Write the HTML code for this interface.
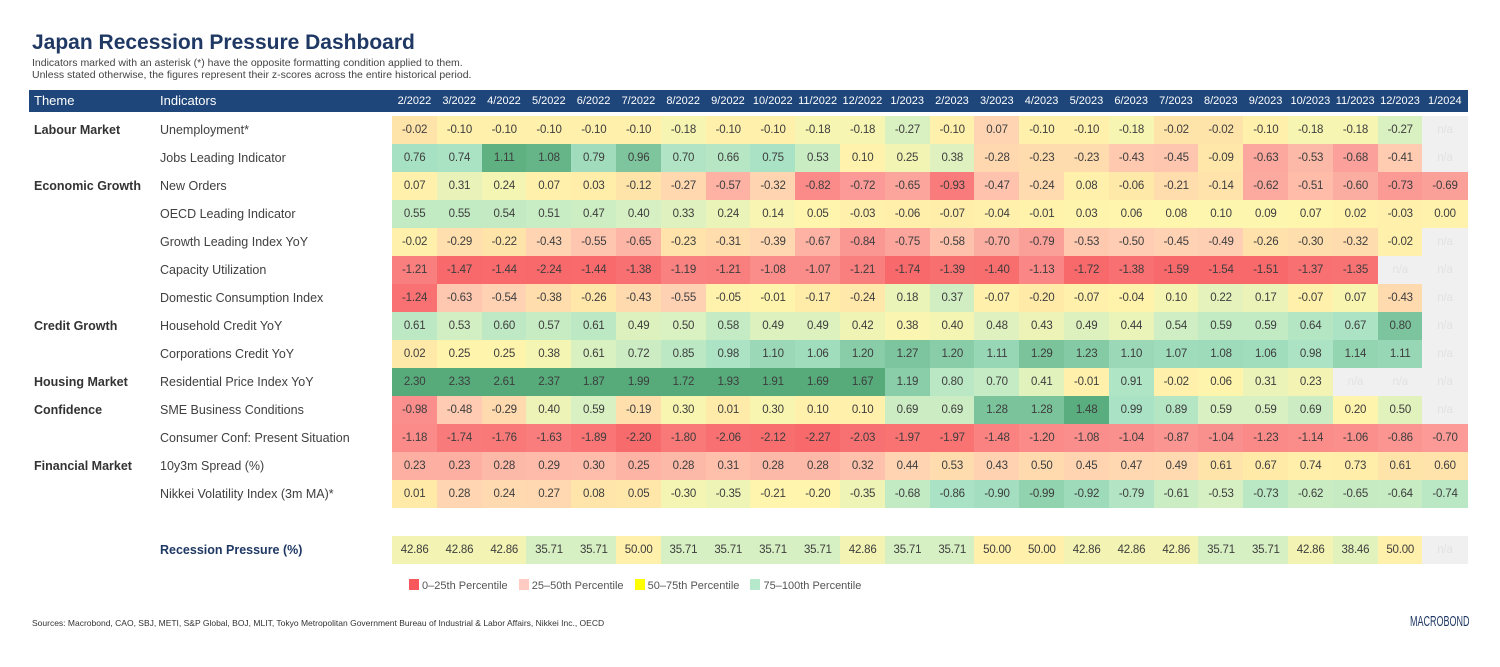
<!DOCTYPE html>
<html><head><meta charset="utf-8">
<style>
body{margin:0;width:1500px;height:667px;background:#fff;font-family:"Liberation Sans",sans-serif;position:relative;overflow:hidden}
.a{position:absolute}
.cell{position:absolute;height:28px;line-height:28px;text-align:center;font-size:11.5px;color:#3d3d3d;letter-spacing:-0.2px}
.hdr{position:absolute;top:90px;height:22px;line-height:22px;color:#fff;font-size:11px;text-align:center}
.lbl{position:absolute;font-size:12.5px;color:#404040;height:28px;line-height:28px}
</style></head><body>
<div class="a" style="left:32px;top:31px;font-size:21px;font-weight:bold;color:#1f3864">Japan Recession Pressure Dashboard</div>
<div class="a" style="left:32px;top:58px;font-size:10.5px;color:#444;line-height:11.5px">Indicators marked with an asterisk (*) have the opposite formatting condition applied to them.<br>Unless stated otherwise, the figures represent their z-scores across the entire historical period.</div>
<div class="a" style="left:29px;top:90px;width:1439px;height:22px;background:#1f467a"></div>
<div class="hdr" style="left:34px;text-align:left;font-size:13px">Theme</div>
<div class="hdr" style="left:160px;text-align:left;font-size:13px">Indicators</div>
<div id="grid"></div>
<div class="a" style="left:409px;top:579px;font-size:11px;color:#555;white-space:nowrap">
<span><span style="display:inline-block;width:10px;height:11px;background:#f8575b;vertical-align:-1px"></span> 0–25th Percentile</span>
<span style="margin-left:8px"><span style="display:inline-block;width:10px;height:11px;background:#ffcbc3;vertical-align:-1px"></span> 25–50th Percentile</span>
<span style="margin-left:8px"><span style="display:inline-block;width:10px;height:11px;background:#ffff00;vertical-align:-1px"></span> 50–75th Percentile</span>
<span style="margin-left:8px"><span style="display:inline-block;width:10px;height:11px;background:#b6e8cc;vertical-align:-1px"></span> 75–100th Percentile</span>
</div>
<div class="a" style="left:32px;top:618px;font-size:8.5px;color:#333">Sources: Macrobond, CAO, SBJ, METI, S&amp;P Global, BOJ, MLIT, Tokyo Metropolitan Government Bureau of Industrial &amp; Labor Affairs, Nikkei Inc., OECD</div>
<div class="a" style="left:1410px;top:613px;font-size:15px;color:#1f3864;transform:scaleX(0.6);transform-origin:0 0;white-space:nowrap">MACROBOND</div>
<script>
const months=["2/2022","3/2022","4/2022","5/2022","6/2022","7/2022","8/2022","9/2022","10/2022","11/2022","12/2022","1/2023","2/2023","3/2023","4/2023","5/2023","6/2023","7/2023","8/2023","9/2023","10/2023","11/2023","12/2023","1/2024"];
const themes=["Labour Market","","Economic Growth","","","","","Credit Growth","","Housing Market","Confidence","","Financial Market","",""];
const indicators=["Unemployment*","Jobs Leading Indicator","New Orders","OECD Leading Indicator","Growth Leading Index YoY","Capacity Utilization","Domestic Consumption Index","Household Credit YoY","Corporations Credit YoY","Residential Price Index YoY","SME Business Conditions","Consumer Conf: Present Situation","10y3m Spread (%)","Nikkei Volatility Index (3m MA)*","Recession Pressure (%)"];
const N=null;
const rowUnemp=[-0.02,-0.10,-0.10,-0.10,-0.10,-0.10,-0.18,-0.10,-0.10,-0.18,-0.18,-0.27,-0.10,0.07,-0.10,-0.10,-0.18,-0.02,-0.02,-0.10,-0.18,-0.18,-0.27,N];
const rowJobs=[0.76,0.74,1.11,1.08,0.79,0.96,0.70,0.66,0.75,0.53,0.10,0.25,0.38,-0.28,-0.23,-0.23,-0.43,-0.45,-0.09,-0.63,-0.53,-0.68,-0.41,N];
const rowOrders=[0.07,0.31,0.24,0.07,0.03,-0.12,-0.27,-0.57,-0.32,-0.82,-0.72,-0.65,-0.93,-0.47,-0.24,0.08,-0.06,-0.21,-0.14,-0.62,-0.51,-0.60,-0.73,-0.69];
const rowOECD=[0.55,0.55,0.54,0.51,0.47,0.40,0.33,0.24,0.14,0.05,-0.03,-0.06,-0.07,-0.04,-0.01,0.03,0.06,0.08,0.10,0.09,0.07,0.02,-0.03,0.00];
const rowGrowth=[-0.02,-0.29,-0.22,-0.43,-0.55,-0.65,-0.23,-0.31,-0.39,-0.67,-0.84,-0.75,-0.58,-0.70,-0.79,-0.53,-0.50,-0.45,-0.49,-0.26,-0.30,-0.32,-0.02,N];
const rowCapacity=[-1.21,-1.47,-1.44,-2.24,-1.44,-1.38,-1.19,-1.21,-1.08,-1.07,-1.21,-1.74,-1.39,-1.40,-1.13,-1.72,-1.38,-1.59,-1.54,-1.51,-1.37,-1.35,N,N];
const rowDomestic=[-1.24,-0.63,-0.54,-0.38,-0.26,-0.43,-0.55,-0.05,-0.01,-0.17,-0.24,0.18,0.37,-0.07,-0.20,-0.07,-0.04,0.10,0.22,0.17,-0.07,0.07,-0.43,N];
const rowHousehold=[0.61,0.53,0.60,0.57,0.61,0.49,0.50,0.58,0.49,0.49,0.42,0.38,0.40,0.48,0.43,0.49,0.44,0.54,0.59,0.59,0.64,0.67,0.80,N];
const rowCorp=[0.02,0.25,0.25,0.38,0.61,0.72,0.85,0.98,1.10,1.06,1.20,1.27,1.20,1.11,1.29,1.23,1.10,1.07,1.08,1.06,0.98,1.14,1.11,N];
const rowResid=[2.30,2.33,2.61,2.37,1.87,1.99,1.72,1.93,1.91,1.69,1.67,1.19,0.80,0.70,0.41,-0.01,0.91,-0.02,0.06,0.31,0.23,N,N,N];
const rowSME=[-0.98,-0.48,-0.29,0.40,0.59,-0.19,0.30,0.01,0.30,0.10,0.10,0.69,0.69,1.28,1.28,1.48,0.99,0.89,0.59,0.59,0.69,0.20,0.50,N];
const rowConsumer=[-1.18,-1.74,-1.76,-1.63,-1.89,-2.20,-1.80,-2.06,-2.12,-2.27,-2.03,-1.97,-1.97,-1.48,-1.20,-1.08,-1.04,-0.87,-1.04,-1.23,-1.14,-1.06,-0.86,-0.70];
const rowSpread=[0.23,0.23,0.28,0.29,0.30,0.25,0.28,0.31,0.28,0.28,0.32,0.44,0.53,0.43,0.50,0.45,0.47,0.49,0.61,0.67,0.74,0.73,0.61,0.60];
const rowNikkei=[0.01,0.28,0.24,0.27,0.08,0.05,-0.30,-0.35,-0.21,-0.20,-0.35,-0.68,-0.86,-0.90,-0.99,-0.92,-0.79,-0.61,-0.53,-0.73,-0.62,-0.65,-0.64,-0.74];
const rowRecession=[42.86,42.86,42.86,35.71,35.71,50.00,35.71,35.71,35.71,35.71,42.86,35.71,35.71,50.00,50.00,42.86,42.86,42.86,35.71,35.71,42.86,38.46,50.00,N];
const rows=[rowUnemp,rowJobs,rowOrders,rowOECD,rowGrowth,rowCapacity,rowDomestic,rowHousehold,rowCorp,rowResid,rowSME,rowConsumer,rowSpread,rowNikkei,rowRecession];
// colour scale parameters per row (historical centre / spread / direction)
const scaleCenter=[-0.1,0.05,0.05,-0.05,-0.05,0.3,-0.1,0.3,0.15,-0.05,0.1,2.97,0.75,-0.1,50];
const scaleSpread=[1.0,2.2,2.2,2.5,2.2,3.5,2.4,1.2,2.7,3.2,2.8,10.5,1.8,2.4,80];
const scaleDir=[-1,1,1,1,1,1,1,1,1,1,1,1,1,-1,-1];

const stops=[[0,[248,105,107]],[0.15,[251,154,150]],[0.3,[255,207,180]],[0.45,[255,233,168]],[0.55,[255,246,173]],[0.68,[214,240,195]],[0.82,[168,226,196]],[1,[87,171,123]]];
function colorAt(t){t=Math.max(0,Math.min(1,t));for(let i=1;i<stops.length;i++){if(t<=stops[i][0]){const a=stops[i-1],b=stops[i];const f=(t-a[0])/(b[0]-a[0]);const c=a[1].map((v,k)=>Math.round(v+(b[1][k]-v)*f));return `rgb(${c})`;}}return 'rgb(87,171,123)';}
const X0=392, CW=44.8;
function xCol(i){return X0+i*CW;}
function yRow(r){return r<14?116+r*28:536;}
const grid=document.getElementById('grid');
months.forEach((m,i)=>{const d=document.createElement('div');d.className='hdr';d.style.left=xCol(i)+'px';d.style.width=CW+'px';d.textContent=m;


grid.appendChild(d);});
rows.forEach((vals,r)=>{
 const y=yRow(r);
 if(themes[r]){const t=document.createElement('div');t.className='lbl';t.style.left='34px';t.style.top=y+'px';t.style.fontWeight='bold';t.style.color='#333';t.textContent=themes[r];
 
 
 grid.appendChild(t);}
 const l=document.createElement('div');l.className='lbl';l.style.left='160px';l.style.top=y+'px';l.textContent=indicators[r];
 if(r===14){l.style.fontWeight='bold';l.style.color='#1f3864';}
 
 
 grid.appendChild(l);
 vals.forEach((v,i)=>{const c=document.createElement('div');c.className='cell';c.style.left=xCol(i)+'px';c.style.top=y+'px';c.style.width=(CW+0.5)+'px';
  if(v===null){c.style.background='#f0f0f0';c.style.color='#e2e2e2';c.textContent='n/a';}
  else{const t=0.5+scaleDir[r]*(v-scaleCenter[r])/scaleSpread[r];c.style.background=colorAt(t);c.textContent=v.toFixed(2);}
  
  
  grid.appendChild(c);});
});
</script>
</body></html>
